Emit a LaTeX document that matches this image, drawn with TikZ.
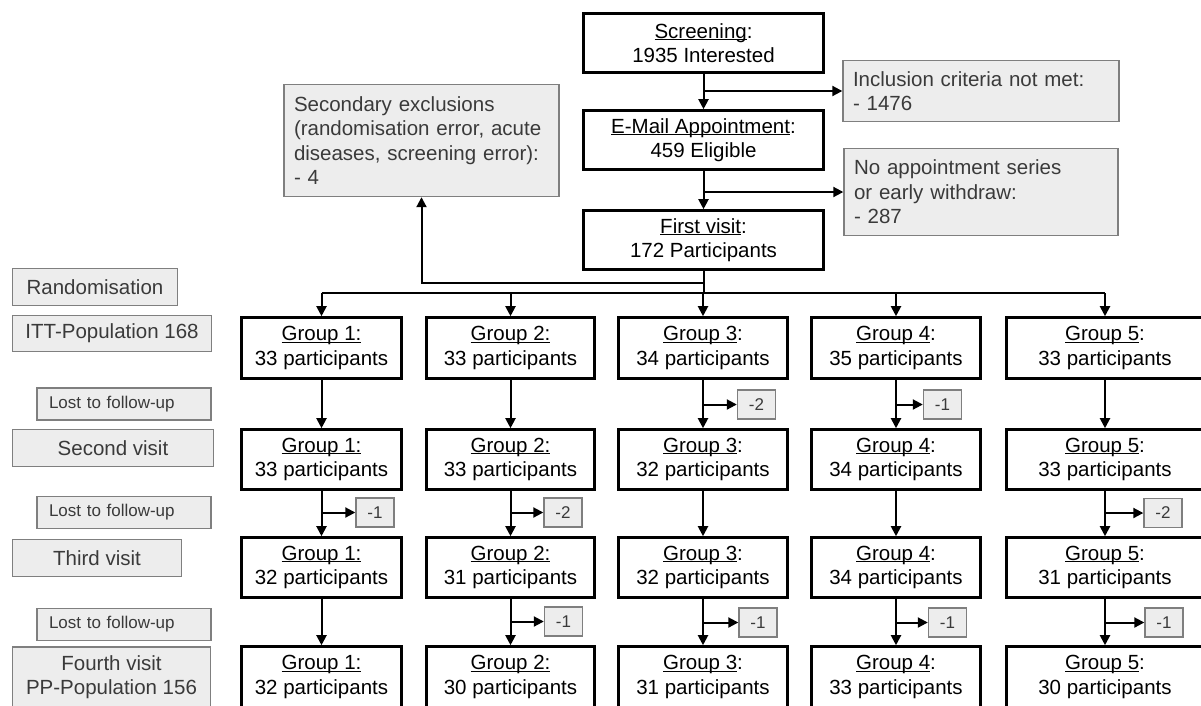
\documentclass[tikz,border=0pt]{standalone}
\usepackage{fontspec}
\setmainfont{Liberation Sans}
\usetikzlibrary{arrows.meta}
\definecolor{gfill}{HTML}{EDEDED}
\definecolor{gline}{HTML}{7F7F7F}
\definecolor{gtext}{HTML}{3A3A3A}
\newcommand{\ulx}[1]{\underline{\smash{#1}}\vphantom{#1}}
\begin{document}
\begin{tikzpicture}[x=1pt,y=-1pt,
  big/.style={font=\fontsize{20.5}{24.5}\selectfont},
  small/.style={font=\fontsize{17}{20}\selectfont},
  blk/.style={big,draw=black,line width=2.6pt,fill=white,inner sep=0pt,align=center},
  gry/.style={big,draw=gline,line width=1.4pt,fill=gfill,text=gtext,inner sep=0pt,align=center},
  grl/.style={gry,align=left,inner xsep=10pt},
  loss/.style={small,draw=gline,line width=1.4pt,fill=gfill,text=gtext,inner sep=0pt,minimum width=38pt,minimum height=29pt},
  lostlab/.style={small,draw=gline,line width=1.4pt,fill=gfill,text=gtext,inner sep=0pt,inner xsep=12pt,align=left,text width=150pt,minimum height=32pt},
  con/.style={line width=2pt,-{Triangle[length=10pt,width=10pt]}},
  ln/.style={line width=2pt}]
\useasboundingbox (0,0) rectangle (1201,705);
\fill[white] (0,0) rectangle (1201,705);

% top chain
\node[blk,minimum width=240pt,minimum height=59pt] (scr) at (703.5,43) {\ulx{Screening}:\\1935 Interested};
\node[blk,minimum width=240pt,minimum height=59pt] (email) at (703.5,140) {\ulx{E-Mail Appointment}:\\459 Eligible};
\node[blk,minimum width=240pt,minimum height=59pt] (first) at (703.5,240) {\ulx{First visit}:\\172 Participants};

\node[grl,text width=256pt,minimum height=61pt] (incl) at (981,91) {Inclusion criteria not met:\\- 1476};
\node[grl,text width=254pt,minimum height=87pt] (noapp) at (981,192) {No appointment series\\or early withdraw:\\- 287};
\node[grl,text width=255pt,minimum height=112pt] (sec) at (421.5,140.5) {Secondary exclusions\\(randomisation error, acute\\diseases, screening error):\\- 4};

% left labels
\node[gry,minimum width=165pt,minimum height=37pt] (rand) at (95,287) {Randomisation};
\node[gry,minimum width=199pt,minimum height=36pt] (itt) at (112,333.5) {ITT-Population 168};
\node[lostlab] (lost1) at (124,404) {Lost to follow-up};
\node[gry,minimum width=201pt,minimum height=37pt] (v2) at (113,448) {Second visit};
\node[lostlab] (lost2) at (124,512.5) {Lost to follow-up};
\node[gry,minimum width=169pt,minimum height=37pt] (v3) at (97,558) {Third visit};
\node[lostlab] (lost3) at (124,624.5) {Lost to follow-up};
\node[gry,minimum width=198pt,minimum height=60pt] (v4) at (111.5,677) {Fourth visit\\PP-Population 156};

% group boxes: row 1
\node[blk,minimum width=160pt,minimum height=61pt] (g11) at (321.5,348) {\ulx{Group 1:}\\33 participants};
\node[blk,minimum width=168pt,minimum height=61pt] (g21) at (510.5,348) {\ulx{Group 2:}\\33 participants};
\node[blk,minimum width=169pt,minimum height=61pt] (g31) at (703,348) {\ulx{Group 3}:\\34 participants};
\node[blk,minimum width=169pt,minimum height=61pt] (g41) at (896,348) {\ulx{Group 4}:\\35 participants};
\node[blk,minimum width=197pt,minimum height=61pt] (g51) at (1105,348) {\ulx{Group 5}:\\33 participants};
% row 2
\node[blk,minimum width=160pt,minimum height=60pt] (g12) at (321.5,459.5) {\ulx{Group 1:}\\33 participants};
\node[blk,minimum width=168pt,minimum height=60pt] (g22) at (510.5,459.5) {\ulx{Group 2:}\\33 participants};
\node[blk,minimum width=169pt,minimum height=60pt] (g32) at (703,459.5) {\ulx{Group 3}:\\32 participants};
\node[blk,minimum width=169pt,minimum height=60pt] (g42) at (896,459.5) {\ulx{Group 4}:\\34 participants};
\node[blk,minimum width=197pt,minimum height=60pt] (g52) at (1105,459.5) {\ulx{Group 5}:\\33 participants};
% row 3
\node[blk,minimum width=160pt,minimum height=60pt] (g13) at (321.5,567.5) {\ulx{Group 1:}\\32 participants};
\node[blk,minimum width=168pt,minimum height=60pt] (g23) at (510.5,567.5) {\ulx{Group 2:}\\31 participants};
\node[blk,minimum width=169pt,minimum height=60pt] (g33) at (703,567.5) {\ulx{Group 3}:\\32 participants};
\node[blk,minimum width=169pt,minimum height=60pt] (g43) at (896,567.5) {\ulx{Group 4}:\\34 participants};
\node[blk,minimum width=197pt,minimum height=60pt] (g53) at (1105,567.5) {\ulx{Group 5}:\\31 participants};
% row 4
\node[blk,minimum width=160pt,minimum height=61pt] (g14) at (321.5,677) {\ulx{Group 1:}\\32 participants};
\node[blk,minimum width=168pt,minimum height=61pt] (g24) at (510.5,677) {\ulx{Group 2:}\\30 participants};
\node[blk,minimum width=169pt,minimum height=61pt] (g34) at (703,677) {\ulx{Group 3}:\\31 participants};
\node[blk,minimum width=169pt,minimum height=61pt] (g44) at (896,677) {\ulx{Group 4}:\\33 participants};
\node[blk,minimum width=197pt,minimum height=61pt] (g54) at (1105,677) {\ulx{Group 5}:\\30 participants};

% loss boxes
\node[loss] (l12) at (375,512.5) {-1};
\node[loss] (l22) at (563,512.5) {-2};
\node[loss] (l23) at (563.5,621.5) {-1};
\node[loss] (l31) at (756.5,404.5) {-2};
\node[loss] (l33) at (758,622.5) {-1};
\node[loss] (l41) at (942.5,404.5) {-1};
\node[loss] (l43) at (947.5,622.5) {-1};
\node[loss] (l52) at (1163,513) {-2};
\node[loss] (l53) at (1164,622.5) {-1};

% top connectors
\draw[con] (scr) -- (email);
\draw[con] (scr.south |- incl.west) -- (incl.west);
\draw[con] (email) -- (first);
\draw[con] (email.south |- noapp.west) -- (noapp.west);

\coordinate (split) at (703.5,293);
\coordinate (secturn) at (421.5,283);
\draw[ln] (first.south) -- (split);
\draw[con] (first.south |- secturn) -- (secturn) -- (sec.south);
\draw[ln] (g11.north |- split) -- (g51.north |- split);
\foreach \c in {1,...,5}{
  \draw[con] (g\c1.north |- split) -- (g\c1.north);
  \draw[con] (g\c1) -- (g\c2);
  \draw[con] (g\c2) -- (g\c3);
  \draw[con] (g\c3) -- (g\c4);
}

% loss branches
\draw[con] (g12.south |- l12.west) -- (l12.west);
\draw[con] (g22.south |- l22.west) -- (l22.west);
\draw[con] (g23.south |- l23.west) -- (l23.west);
\draw[con] (g31.south |- l31.west) -- (l31.west);
\draw[con] (g33.south |- l33.west) -- (l33.west);
\draw[con] (g41.south |- l41.west) -- (l41.west);
\draw[con] (g43.south |- l43.west) -- (l43.west);
\draw[con] (g52.south |- l52.west) -- (l52.west);
\draw[con] (g53.south |- l53.west) -- (l53.west);
\end{tikzpicture}
\end{document}
